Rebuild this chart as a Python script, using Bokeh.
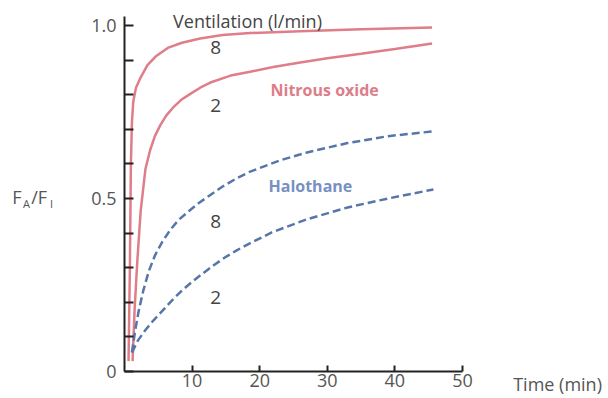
from bokeh.plotting import figure
from bokeh.models import Label, FixedTicker, Range1d
from bokeh.embed import file_html
from bokeh.resources import INLINE

# ---- data ----
n2o_8_t = [0.6, 0.8, 0.95, 1.1, 1.3, 1.7, 2.4, 3.4, 4.6, 6.4, 8.5, 11.2, 14.5, 18.6, 26, 35, 45.5]
n2o_8_y = [0.03, 0.3, 0.6, 0.72, 0.78, 0.82, 0.85, 0.885, 0.91, 0.935, 0.95, 0.962, 0.972, 0.978, 0.983, 0.989, 0.994]

n2o_2_t = [1.2, 1.5, 1.9, 2.4, 3.1, 3.8, 4.5, 5.3, 6.2, 7.2, 8.4, 9.8, 11.2, 12.7, 15.7, 18.6, 22, 26, 30, 35, 40, 45.5]
n2o_2_y = [0.03, 0.18, 0.32, 0.465, 0.585, 0.64, 0.68, 0.712, 0.74, 0.763, 0.785, 0.803, 0.82, 0.835, 0.855, 0.866, 0.88, 0.893, 0.905, 0.918, 0.932, 0.948]

hal_8_t = [1.1, 1.6, 2.1, 2.8, 3.6, 4.5, 5.6, 6.8, 8.0, 9.5, 11.0, 12.7, 14.4, 16.4, 18.4, 23, 27, 33, 39, 45.7]
hal_8_y = [0.055, 0.12, 0.175, 0.235, 0.29, 0.335, 0.375, 0.41, 0.438, 0.463, 0.487, 0.51, 0.533, 0.556, 0.576, 0.61, 0.633, 0.66, 0.68, 0.694]

hal_2_t = [1.1, 2.0, 3.1, 4.3, 5.6, 7.0, 8.5, 10.0, 11.5, 13.2, 14.9, 16.6, 18.4, 21.8, 27, 33, 39, 45.7]
hal_2_y = [0.055, 0.09, 0.12, 0.148, 0.175, 0.205, 0.234, 0.259, 0.282, 0.307, 0.33, 0.35, 0.369, 0.402, 0.44, 0.474, 0.50, 0.526]

x_ticks = [10, 20, 30, 40, 50]
y_major = [0, 0.5, 1.0]
y_major_labels = {0: "0", 0.5: "0.5", 1.0: "1.0"}
y_minor = [0.1, 0.2, 0.3, 0.4, 0.6, 0.7, 0.8, 0.9]

PINK = "#df7d89"
BLUE = "#5676aa"
FONT = "Open Sans"

# frame covers the whole canvas; axes are pinned at x=0 / y=0
p = figure(width=608, height=398, output_backend="svg", toolbar_location=None,
           x_range=Range1d(-18.34, 71.6), y_range=Range1d(-0.078, 1.072),
           min_border_left=0, min_border_right=0, min_border_top=0, min_border_bottom=0)
p.outline_line_color = None
p.xgrid.visible = False
p.ygrid.visible = False
p.background_fill_color = "white"
p.border_fill_color = "white"

p.line(n2o_8_t, n2o_8_y, line_color=PINK, line_width=2.5)
p.line(n2o_2_t, n2o_2_y, line_color=PINK, line_width=2.5)
p.line(hal_8_t, hal_8_y, line_color=BLUE, line_width=2.5, line_dash="8 4")
p.line(hal_2_t, hal_2_y, line_color=BLUE, line_width=2.5, line_dash="8 4")

# axes
for ax in (p.xaxis[0], p.yaxis[0]):
    ax.axis_line_color = "#222222"
    ax.axis_line_width = 2
    ax.major_tick_line_color = "#222222"
    ax.major_tick_line_width = 2
    ax.minor_tick_line_color = "#222222"
    ax.minor_tick_line_width = 2
    ax.major_label_text_font = FONT
    ax.major_label_text_font_size = "18px"
    ax.major_label_text_color = "#555555"
    ax.fixed_location = 0

p.xaxis.bounds = (0, 50)
p.yaxis.bounds = (0, 1.025)

p.xaxis.ticker = FixedTicker(ticks=x_ticks)
p.xaxis.major_tick_in = 6
p.xaxis.major_tick_out = 0
p.xaxis.minor_tick_in = 0
p.xaxis.minor_tick_out = 0
p.xaxis.major_label_standoff = 2

p.yaxis.ticker = FixedTicker(ticks=y_major, minor_ticks=y_minor)
p.yaxis.major_label_overrides = y_major_labels
p.yaxis.major_tick_in = 9
p.yaxis.major_tick_out = 0
p.yaxis.minor_tick_in = 9
p.yaxis.minor_tick_out = 0
p.yaxis.major_label_standoff = 8

def lab(x, y, text, color="#444444", size="19px", style="normal", align="left", units="data"):
    p.add_layout(Label(x=x, y=y, text=text, x_units=units, y_units=units,
                       text_color=color, text_font=FONT, text_font_size=size,
                       text_font_style=style, text_align=align, text_baseline="middle"))

lab(18.2, 1.014, "Ventilation (l/min)", size="18px", align="center")
lab(13.5, 0.936, "8", align="center")
lab(13.5, 0.769, "2", align="center")
lab(21.6, 0.812, "Nitrous oxide", color="#dc7e8a", size="16px", style="bold")
lab(21.3, 0.535, "Halothane", color="#7890c2", size="16px", style="bold")
lab(13.5, 0.434, "8", align="center")
lab(13.5, 0.214, "2", align="center")
lab(57.5, -0.035, "Time (min)", color="#555555", size="18px")

# F_A/F_I label, left of the y axis
lab(-16.6, 0.503, "F", color="#555555", size="18px")
lab(-15.0, 0.486, "A", color="#555555", size="11px")
lab(-13.8, 0.503, "/F", color="#555555", size="18px")
lab(-11.0, 0.486, "I", color="#555555", size="11px")

open("out.html", "w").write(file_html(p, INLINE))
